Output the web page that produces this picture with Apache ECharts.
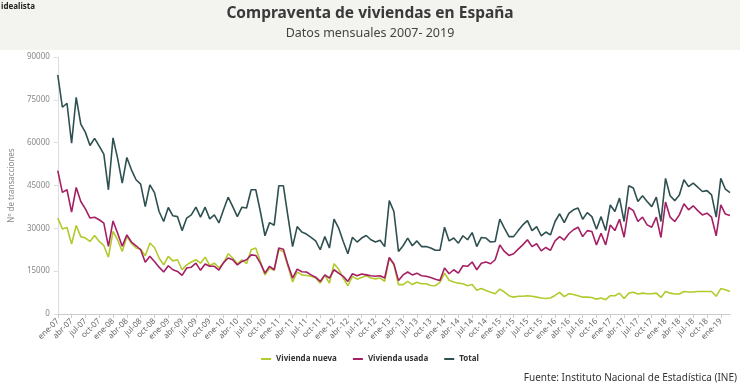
<!DOCTYPE html>
<html>
<head>
<meta charset="utf-8">
<script src="https://cdn.jsdelivr.net/npm/echarts@6/dist/echarts.min.js"></script>
<style>
html,body{margin:0;padding:0;background:#fff;}
#c{width:740px;height:389px;}
</style>
</head>
<body>
<div id="c"></div>
<script>
// Tick label parts
const monthNames = ['ene','feb','mar','abr','may','jun','jul','ago','sep','oct','nov','dic'];
const startYear = 7;
const nMonths = 147;
const categories = [];
for (let i = 0; i < nMonths; i++) {
  const y = startYear + Math.floor(i / 12);
  categories.push(monthNames[i % 12] + '-' + (y < 10 ? '0' + y : '' + y));
}
const yTicks = [0, 15000, 30000, 45000, 60000, 75000, 90000];

// Series values
const viviendaNueva = [
  33600,29800,30300,24500,31000,27100,26600,25400,27500,25400,24000,19900,
  28900,26000,21900,27100,24800,23100,22700,20400,24800,23300,19600,17200,
  20200,18600,19000,15500,17200,18200,19000,17800,19900,17000,17800,16200,
  17800,21100,19600,17600,19000,17600,22500,23100,18400,13700,16100,15300,
  22500,21900,16700,11200,14700,13700,13500,13200,12600,10800,13500,10800,
  17600,15700,12600,9900,13200,12200,12800,13400,12600,12300,12600,11400,
  19600,17200,10300,10300,11400,10300,11100,10600,10600,10000,9900,11100,
  14300,11800,11200,10800,10600,9900,10300,8300,8900,8200,7600,7100,
  8700,7700,6400,5900,6200,6200,6400,6200,5900,5600,5400,5600,
  6500,7600,6100,7100,6800,6400,5900,5900,5800,5200,5600,5000,
  6400,6400,7300,5400,7300,7600,7000,7300,7100,7100,7300,5800,
  7900,7300,7000,7000,7900,7700,7700,7900,7900,7900,7900,6200,
  8900,8500,7900
];
const viviendaUsada = [
  50200,42600,43500,35700,44300,39400,36800,33600,33900,33000,31800,23700,
  32600,28300,23700,27700,25200,23900,22500,18100,20200,18400,16400,14700,
  16900,15500,14900,13500,16100,16400,17800,15300,17500,16700,16700,15400,
  18000,19600,19000,17200,18400,19000,20700,20500,17800,14300,16700,15500,
  23100,22700,17200,12600,15700,14800,14700,13700,12900,11400,13700,12600,
  15500,14300,13200,11400,14100,13400,14000,13700,13400,13200,13400,12600,
  19800,17500,11700,13700,14700,13700,14300,13400,13200,12800,12200,11700,
  16100,14100,15500,14300,16900,16700,18200,15500,17800,18200,17600,19000,
  24200,21900,20500,21100,22700,24200,26000,23600,24600,22100,23300,22300,
  25600,27100,25900,28100,29500,30400,27100,29200,28900,24200,28300,24200,
  31200,29200,33200,26900,37300,36200,32400,33900,31200,30400,33900,26800,
  39200,33900,32400,34700,38600,36500,37900,36200,34700,35300,33900,27400,
  38200,35000,34500
];
const total = [
  83700,72400,73800,59800,75900,66500,63600,59000,61500,58800,56000,43500,
  61700,54500,45800,54800,50500,47000,45500,37600,45200,42500,35900,32400,
  37300,34400,34100,29200,33600,34700,37400,33900,37400,33300,34700,31900,
  36500,40900,37600,34100,37400,37100,43500,43500,35900,27400,32000,31100,
  44900,44900,34100,23600,30600,28700,28000,26800,25600,22500,27100,23100,
  33200,30100,25400,21100,26900,25200,26600,27500,26000,25200,25800,23600,
  39700,35900,21900,23900,26600,23900,25600,23600,23600,23100,22300,22300,
  30400,25600,26600,24800,27400,26000,28500,23600,26800,26600,25200,25400,
  33200,30100,27100,27100,29200,31200,32700,29200,30600,27400,28700,27700,
  32400,35100,32000,35200,36500,37100,33200,35500,34100,29700,34100,29200,
  38200,35900,40600,32400,44900,44100,39400,41400,39400,37600,40900,32400,
  47500,41400,39700,41700,47000,44600,45800,44400,42900,43200,41700,33900,
  47500,43700,42500
];

const FONT = '"Noto Sans", "Open Sans", sans-serif';
const chart = echarts.init(document.getElementById('c'), null, {renderer: 'canvas'});
chart.setOption({
  backgroundColor: '#ffffff',
  animation: false,
  textStyle: {fontFamily: FONT},
  graphic: [
    {type: 'rect', left: 0, top: 0, z: -10, shape: {width: 740, height: 50}, style: {fill: '#f3f3ef'}},
    {type: 'text', left: 1, top: 3, style: {text: 'idealista', font: 'bold 8px ' + FONT, fill: '#222'}},
    {type: 'text', left: 'center', top: 6, style: {text: 'Compraventa de viviendas en España', font: 'bold 15.5px ' + FONT, fill: '#3a3a3a'}},
    {type: 'text', left: 'center', top: 27, style: {text: 'Datos mensuales 2007- 2019', font: '12.5px ' + FONT, fill: '#444'}},
    {type: 'text', right: 3, top: 373, style: {text: 'Fuente: Instituto Nacional de Estadística (INE)', font: '10px ' + FONT, fill: '#333'}}
  ],
  legend: {
    bottom: 21,
    left: 'center',
    itemWidth: 10,
    itemHeight: 2,
    itemGap: 16,
    icon: 'rect',
    textStyle: {fontSize: 8, fontWeight: 'bold', color: '#333', fontFamily: FONT},
    data: ['Vivienda nueva', 'Vivienda usada', 'Total']
  },
  grid: {left: 54, right: 10, top: 57, height: 257, containLabel: false},
  xAxis: {
    type: 'category',
    data: categories,
    boundaryGap: false,
    axisLine: {lineStyle: {color: '#ccc'}},
    axisTick: {interval: function (i) { return i % 3 === 0; }, lineStyle: {color: '#ccc'}, length: 4},
    axisLabel: {
      interval: function (i) { return i % 3 === 0; },
      rotate: 45, fontSize: 8, color: '#666', margin: 6, fontFamily: FONT
    },
    splitLine: {show: false}
  },
  yAxis: {
    type: 'value',
    min: yTicks[0],
    max: yTicks[yTicks.length - 1],
    interval: 15000,
    name: 'Nº de transacciones',
    nameLocation: 'middle',
    nameGap: 38,
    nameTextStyle: {fontSize: 8, color: '#888', fontFamily: FONT},
    axisLine: {show: true, lineStyle: {color: '#ddd'}},
    axisTick: {show: true, length: 4, lineStyle: {color: '#ddd'}},
    axisLabel: {fontSize: 8, color: '#888', margin: 8, fontFamily: FONT,
      formatter: function (v) { return String(v); }},
    splitLine: {show: false}
  },
  series: [
    {name: 'Vivienda nueva', type: 'line', data: viviendaNueva, showSymbol: false, symbol: 'none',
     lineStyle: {width: 1.6, color: '#b3c92e'}, itemStyle: {color: '#b3c92e'}, z: 1},
    {name: 'Vivienda usada', type: 'line', data: viviendaUsada, showSymbol: false, symbol: 'none',
     lineStyle: {width: 1.6, color: '#a51f64'}, itemStyle: {color: '#a51f64'}, z: 2},
    {name: 'Total', type: 'line', data: total, showSymbol: false, symbol: 'none',
     lineStyle: {width: 1.6, color: '#2e5050'}, itemStyle: {color: '#2e5050'}, z: 3}
  ]
});
</script>
</body>
</html>
